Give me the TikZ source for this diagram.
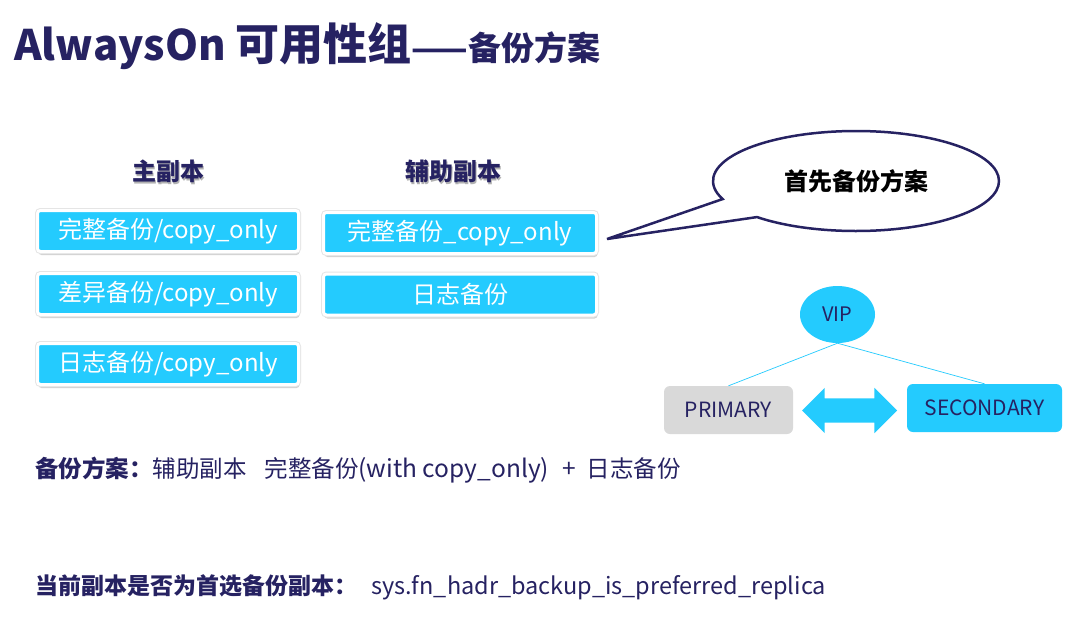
\documentclass[tikz,border=0pt]{standalone}
\usepackage{fontspec}
\setmainfont{Noto Sans CJK SC}
\usetikzlibrary{shapes.geometric,shapes.callouts,shapes.arrows,shadows}
\definecolor{navy}{RGB}{38,34,98}
\definecolor{sky}{RGB}{36,203,254}
\definecolor{pale}{RGB}{217,217,217}
\newcommand{\fsz}[1]{\fontsize{#1}{#1}\selectfont}
\newcommand{\shadowed}[1]{\makebox[0pt][l]{\hspace{1.5pt}\raisebox{-2pt}{\color{black!30}#1}}#1}

\begin{document}
\begin{tikzpicture}[x=1pt,y=-1pt,
  bak/.style={rectangle,rounded corners=3pt,fill=sky,draw=white,line width=3pt,
    minimum height=41pt,inner sep=0pt,text=white,font=\fsz{24},
    drop shadow={shadow xshift=1pt,shadow yshift=-3.5pt,opacity=.35},
    preaction={draw=black!10,line width=5pt}},
  hdr/.style={text=navy,font=\bfseries\fsz{24}},
  note/.style={anchor=west,inner sep=0pt,text=navy,font=\fsz{23.5}},
  role/.style={rectangle,rounded corners=6pt,minimum height=48pt,text=navy,font=\fsz{21}}]
\useasboundingbox[fill=white] (0,0) rectangle (1080,619);
\pgfmathsetmacro{\lx}{168}
\pgfmathsetmacro{\rx}{460}

% title
\node[anchor=base west,inner sep=0pt,text=navy] (title) at (14,60)
  {\bfseries{\fsz{42}AlwaysOn }{\fsz{44}可用性组}{\fsz{33}——备份方案}};

% primary / secondary columns
\node[hdr] (prihdr) at (\lx,172) {\shadowed{主副本}};
\node[hdr] (sechdr) at (453,172) {\shadowed{辅助副本}};

\node[bak,minimum width=261pt] (pfull) at (\lx,231) {完整备份/copy\_only};
\node[bak,minimum width=261pt] (pdiff) at (\lx,294) {差异备份/copy\_only};
\node[bak,minimum width=261pt] (plog) at (\lx,364) {日志备份/copy\_only};

\node[bak,minimum width=273pt] (sfull) at (\rx,233) {完整备份\_copy\_only};
\node[bak,minimum width=273pt] (slog) at (\rx,294.5) {日志备份};

% callout
\coordinate (tip) at (607,239);
\node[ellipse callout,draw=navy,line width=2.5pt,fill=white,
  minimum width=286pt,minimum height=100pt,
  callout absolute pointer={(tip)},callout pointer arc=25,
  font=\bfseries\fsz{24}] (plan) at (856,181) {首先备份方案};

% VIP
\node[ellipse,fill=sky,minimum width=75pt,minimum height=57pt,inner sep=0pt,
  text=navy,font=\fsz{20}] (vip) at (837.5,314.5) {VIP};
\node[role,fill=pale,minimum width=129pt] (primary) at (728.5,410) {PRIMARY};
\node[role,fill=sky,minimum width=155pt] (secondary) at (984.5,408) {SECONDARY};
\draw[sky,line width=.7pt] (vip.south) -- (primary.north);
\draw[sky,line width=.7pt] (vip.south) -- (secondary.north);
\node[double arrow,fill=sky,minimum height=95pt,double arrow head extend=10.5pt,
  inner sep=0pt,inner ysep=12pt] (sync) at (849.5,410.5) {};

% notes
\node[note] (scheme) at (35,470)
  {\textbf{备份方案：}辅助副本\hspace{18pt}完整备份{\fsz{24.5}(with copy\_only)\hspace{13pt}+\hspace{11pt}}日志备份};
\node[note,font=\fsz{23}] (query) at (35,587)
  {\textbf{当前副本是否为首选备份副本：}\hspace{14pt}{\fsz{23.5}sys.fn\_hadr\_backup\_is\_preferred\_replica}};
\end{tikzpicture}
\end{document}
